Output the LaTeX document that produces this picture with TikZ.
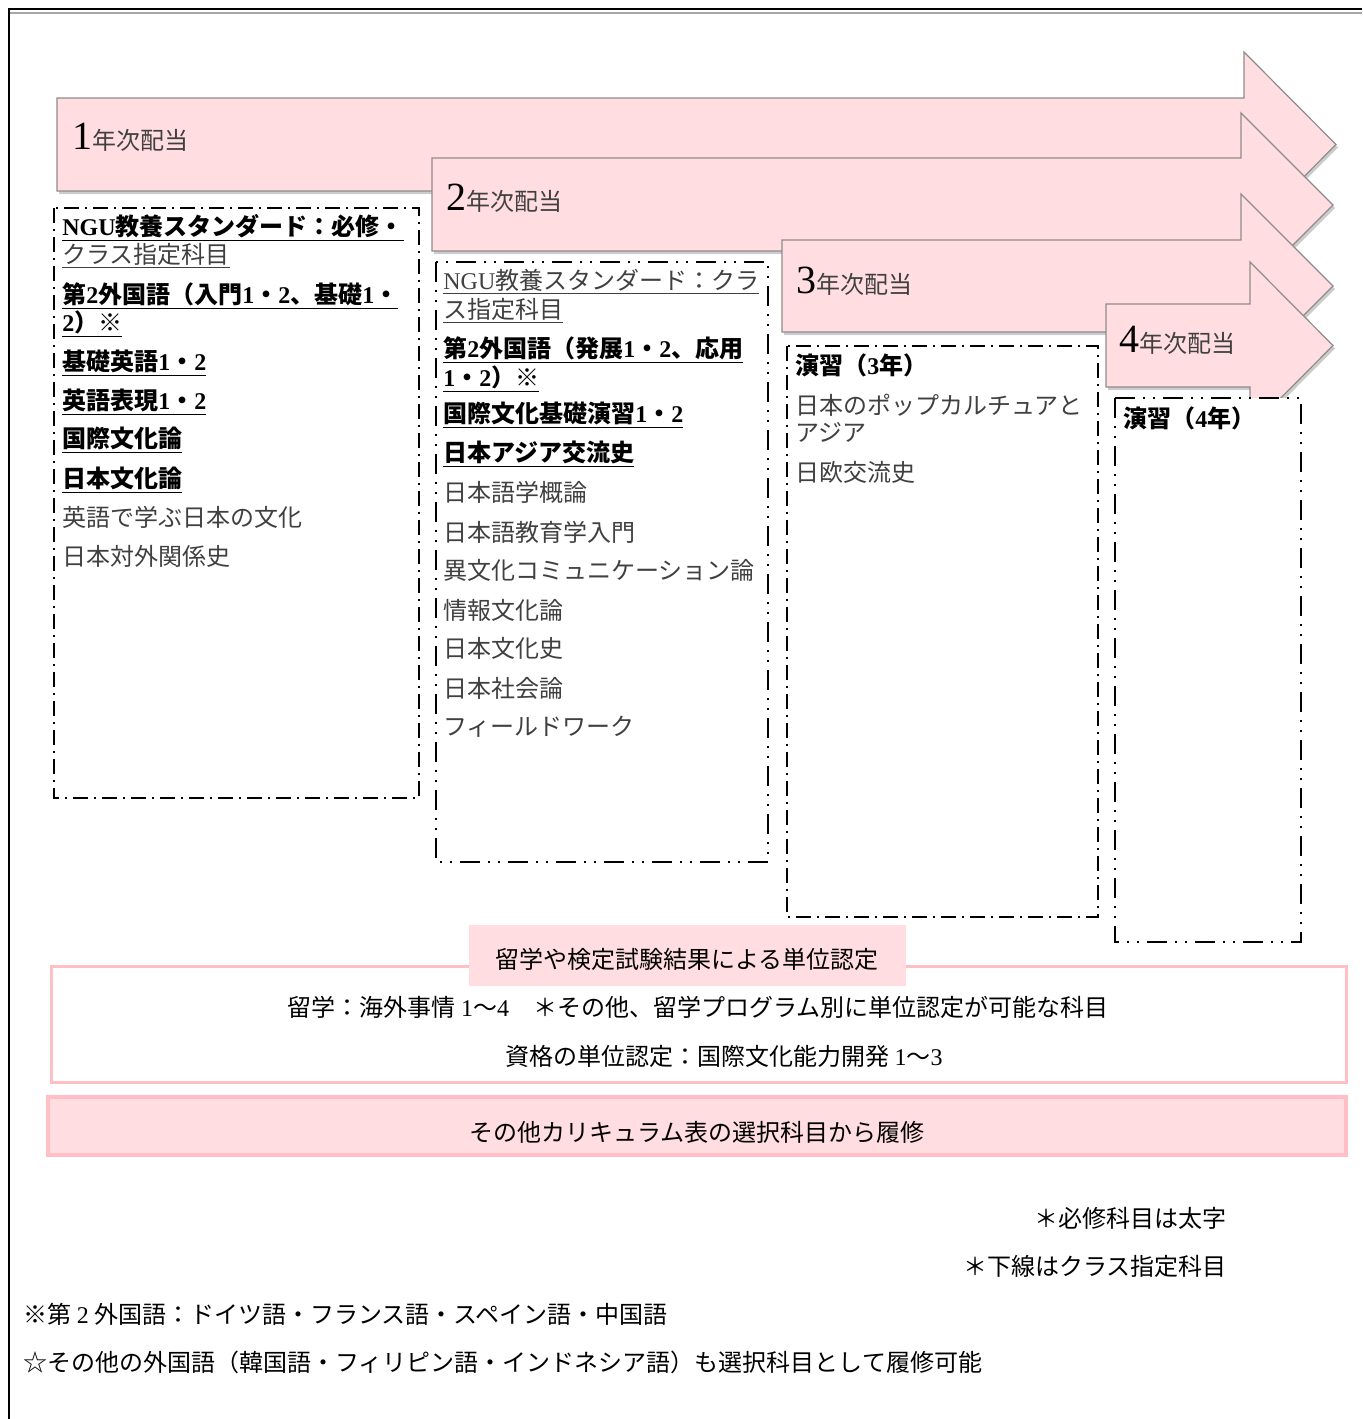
\documentclass[tikz,border=0pt]{standalone}
\usepackage{fontspec}
\setmainfont{Noto Sans CJK JP}
\newfontfamily\tmfont{Liberation Serif}
\definecolor{arrowpink}{HTML}{FFDDE0}
\definecolor{edgegray}{HTML}{8C8C8C}
\definecolor{linepink}{HTML}{FFBFC4}
\definecolor{textgray}{HTML}{404040}
\newcommand{\tm}[1]{{\tmfont #1}}
\newcommand{\req}[1]{{\color{black}\underline{\bfseries #1}}}
\newcommand{\cls}[1]{\underline{#1}}
\newcommand{\hon}[1]{{\color{black}\bfseries #1}}
\tikzset{
	yeararrow/.style={fill=arrowpink, draw=edgegray, line width=0.6pt},
	yearshadow/.style={fill=black, opacity=0.2},
	coursebox/.style={draw, fill=white, line width=1pt, dash pattern=on 7.5pt off 3pt on 1pt off 3pt},
	coursebox2/.style={coursebox, dash pattern=on 10pt off 4pt on 1pt off 4pt on 1pt off 4pt},
	item/.style={anchor=base west, inner sep=0pt, font=\fontsize{12}{14}\selectfont, text=textgray},
	note/.style={inner sep=0pt, font=\fontsize{12}{14}\selectfont, text=black}
}
\begin{document}
\begin{tikzpicture}[x=0.5pt,y=-0.5pt]
	\useasboundingbox (0,0) rectangle (1362,1419);
	\draw[line width=1pt] (1362,9) -- (9,9) -- (9,1419);
	\draw[line width=0.8pt, gray!70] (10,13) -- (1362,13);
	\foreach \k/\l/\t/\b/\h/\p/\ht/\hb/\lx/\ly in {1/57/98/191/1244/1336/52/237/72/149, 2/432/158/251/1241/1333/113/297/446/210, 3/782/240/332/1241/1333/194/378/796/293, 4/1106/304/387/1250/1333/262/429/1119/352}{
		\fill[yearshadow, xshift=1pt, yshift=-1.5pt] (\l,\t) -- (\h,\t) -- (\h,\ht) -- (\p,{(\ht+\hb)/2}) -- (\h,\hb) -- (\h,\b) -- (\l,\b) -- cycle;
		\draw[yeararrow] (\l,\t) -- (\h,\t) -- (\h,\ht) -- (\p,{(\ht+\hb)/2}) -- (\h,\hb) -- (\h,\b) -- (\l,\b) -- cycle;
		\node[item] (year\k) at (\lx,\ly) {{\color{black}\tmfont\fontsize{20}{20}\selectfont \k}年次配当};
	}
	\draw[coursebox] (54,208) rectangle (419,798);
	\draw[coursebox2] (436,262) rectangle (768,862);
	\draw[coursebox] (787,346) rectangle (1098,917);
	\draw[coursebox2] (1115,398) rectangle (1301,942);
	\foreach \y/\t [count=\i] in {235/{\req{\tm{NGU}教養スタンダード：必修・}}, 263/{\cls{クラス指定科目}}, 303/{\req{第\tm{2}外国語（入門\tm{1}・\tm{2}、基礎\tm{1}・}}, 331/{\req{\tm{2}）※}}, 370/{\req{基礎英語\tm{1}・\tm{2}}}, 409/{\req{英語表現\tm{1}・\tm{2}}}, 447/{\req{国際文化論}}, 487/{\req{日本文化論}}, 526/{英語で学ぶ日本の文化}, 565/{日本対外関係史}}
		\node[item] (first\i) at (62,\y) {\t};
	\foreach \y/\t [count=\i] in {289/{\cls{\tm{NGU}教養スタンダード：クラ}}, 318/{\cls{ス指定科目}}, 357/{\req{第\tm{2}外国語（発展\tm{1}・\tm{2}、応用}}, 386/{\req{\tm{1}・\tm{2}）※}}, 422/{\req{国際文化基礎演習\tm{1}・\tm{2}}}, 461/{\req{日本アジア交流史}}, 501/{日本語学概論}, 541/{日本語教育学入門}, 579/{異文化コミュニケーション論}, 619/{情報文化論}, 657/{日本文化史}, 697/{日本社会論}, 735/{フィールドワーク}}
		\node[item] (second\i) at (443,\y) {\t};
	\foreach \y/\t [count=\i] in {374/{\hon{演習（\tm{3}年）}}, 414/{日本のポップカルチュアと}, 441/{アジア}, 481/{日欧交流史}}
		\node[item] (third\i) at (795,\y) {\t};
	\node[item] (fourth1) at (1123,427) {\hon{演習（\tm{4}年）}};
	\draw[draw=linepink, line width=1.5pt] (51,966) rectangle (1346,1082);
	\fill[arrowpink] (469,925) rectangle (906,986);
	\node[note] (credittitle) at (687,959) {留学や検定試験結果による単位認定};
	\node[note] (abroad) at (698,1007) {留学：海外事情 \tm{1}〜\tm{4}\quad ＊その他、留学プログラム別に単位認定が可能な科目};
	\node[note] (license) at (724,1056) {資格の単位認定：国際文化能力開発 \tm{1}〜\tm{3}};
	\draw[draw=linepink, fill=arrowpink, line width=2pt] (48,1097) rectangle (1346,1155);
	\node[note] (electives) at (697,1132) {その他カリキュラム表の選択科目から履修};
	\node[note, anchor=east] (boldnote) at (1227,1218) {＊必修科目は太字};
	\node[note, anchor=east] (linenote) at (1227,1266) {＊下線はクラス指定科目};
	\node[note, anchor=west] (langnote) at (23,1314) {※第 \tm{2} 外国語：ドイツ語・フランス語・スペイン語・中国語};
	\node[note, anchor=west] (othernote) at (23,1362) {☆その他の外国語（韓国語・フィリピン語・インドネシア語）も選択科目として履修可能};
\end{tikzpicture}
\end{document}
